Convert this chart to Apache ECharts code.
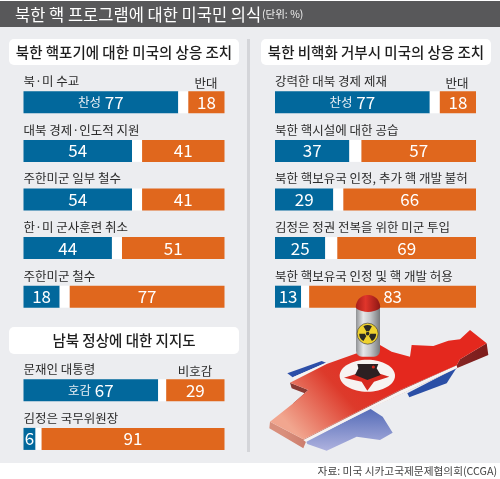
<!DOCTYPE html>
<html><head><meta charset="utf-8">
<style>html,body{margin:0;padding:0;background:#fff}#c{width:500px;height:479px}</style>
<script src="https://cdn.jsdelivr.net/npm/echarts@6/dist/echarts.min.js"></script>
</head><body><div id="c"></div>
<script>
const titleText = '북한 핵 프로그램에 대한 미국민 의식';
const unitText = '(단위: %)';
const sourceText = '자료: 미국 시카고국제문제협의회(CCGA)';

const panelATitle = '북한 핵포기에 대한 미국의 상응 조치';
const panelACategories = ['북·미 수교','대북 경제·인도적 지원','주한미군 일부 철수','한·미 군사훈련 취소','주한미군 철수'];
const panelAYes = [77,54,54,44,18];
const panelANo = [18,41,41,51,77];

const panelBTitle = '북한 비핵화 거부시 미국의 상응 조치';
const panelBCategories = ['강력한 대북 경제 제재','북한 핵시설에 대한 공습','북한 핵보유국 인정, 추가 핵 개발 불허','김정은 정권 전복을 위한 미군 투입','북한 핵보유국 인정 및 핵 개발 허용'];
const panelBYes = [77,37,29,25,13];
const panelBNo = [18,57,66,69,83];

const panelCTitle = '남북 정상에 대한 지지도';
const panelCCategories = ['문재인 대통령','김정은 국무위원장'];
const panelCYes = [67,6];
const panelCNo = [29,91];

const FONT = '"Noto Sans CJK KR","Noto Sans",sans-serif';
const BLUE = '#02689c', ORANGE = '#e0671d', TEXT = '#2b2b2b';

const panels = [
  {cats:panelACategories, yes:panelAYes, no:panelANo, left:23.5, top:78, h:243, yesWord:'찬성'},
  {cats:panelBCategories, yes:panelBYes, no:panelBNo, left:275, top:78, h:243, yesWord:'찬성'},
  {cats:panelCCategories, yes:panelCYes, no:panelCNo, left:23.5, top:366, h:97.2, yesWord:'호감'}
];

const grid=[],xAxis=[],yAxis=[],series=[];
panels.forEach((p,i)=>{
  grid.push({left:p.left,top:p.top,width:201,height:p.h});
  xAxis.push({gridIndex:i,type:'value',min:0,max:100,show:false});
  yAxis.push({gridIndex:i,type:'category',inverse:true,data:p.cats,
    axisLine:{show:false},axisTick:{show:false},splitLine:{show:false},
    axisLabel:{inside:true,margin:0,align:'left',verticalAlign:'bottom',padding:[0,0,14.5,0],
      fontFamily:FONT,fontSize:12.5,color:TEXT}});
  const common={type:'bar',xAxisIndex:i,yAxisIndex:i,stack:'s'+i,barWidth:22,silent:true,animation:false};
  series.push({...common,name:'yes',data:p.yes,itemStyle:{color:BLUE},
    label:{show:true,position:'inside',fontFamily:FONT,color:'#fff',fontSize:17,
      formatter:o=>o.dataIndex===0?'{w|'+p.yesWord+'} '+o.value:''+o.value,
      rich:{w:{fontFamily:FONT,fontSize:12.5,color:'#e6eef4'}}}});
  series.push({...common,name:'gap',data:p.yes.map((v,k)=>100-v-p.no[k]),itemStyle:{color:'#ffffff'}});
  series.push({...common,name:'no',data:p.no,itemStyle:{color:ORANGE},
    label:{show:true,position:'inside',fontFamily:FONT,color:'#fff',fontSize:17,formatter:'{c}'}});
});

function t(x,y,text,size,color,align,weight){
  return {type:'text',x,y,z:50,silent:true,style:{text,fontFamily:FONT,fontSize:size,fill:color||TEXT,align:align||'left',verticalAlign:'middle',fontWeight:weight||'normal'}};
}
function r(x,y,w,h,fill,rad){return {type:'rect',x,y,silent:true,shape:{x:0,y:0,width:w,height:h,r:rad||0},style:{fill}};}
function grad(x,y,x2,y2,stops){return {type:'linear',x,y,x2,y2,global:true,colorStops:stops.map(s=>({offset:s[0],color:s[1]}))};}
const Z=a=>a.map(q=>[250+q[0]/3,240+q[1]/3]);
function poly(pts,fill){return {type:'polygon',silent:true,shape:{points:Z(pts)},style:{fill}};}
const ZX=v=>250+v/3, ZY=v=>240+v/3;

const art=[
  // side depth of the map
  poly([[710,310],[715,345],[620,385],[360,505],[170,600],[160,625],[58,565],[60,545],[160,598],[450,450],[620,376],[630,358]],
    grad(ZX(100),0,ZX(700),0,[[0,'#d98f7c'],[0.5,'#a0403a'],[1,'#7d1d1c']])),
  poly([[120,428],[125,445],[170,462],[130,495],[130,490],[175,450]],'#8a3a34'),
  // blue sliver, top left
  poly([[112,400],[215,363],[228,368],[128,412]],'#2d4fa8'),
  // south, blue fading
  poly([[168,603],[362,507],[398,530],[428,578],[390,600],[320,590],[230,632],[172,612]],
    grad(ZX(300),ZY(500),ZX(300),ZY(630),[[0,'#5068b6'],[1,'#adb1de']])),
  // east blue
  poly([[472,460],[620,383],[590,430],[478,472]],'#2b4fa6'),
  // white bands
  poly([[160,600],[450,452],[620,376],[622,384],[360,506],[168,606]],'#f6f3f2'),
  poly([[128,412],[228,368],[236,372],[132,420]],'#f6f3f2'),
  // red face of the map
  poly([[120,428],[230,372],[390,315],[425,335],[480,350],[485,315],[550,318],[595,302],[630,298],[660,270],[710,310],[630,358],[620,376],[450,450],[160,598],[60,545],[130,490],[175,450]],
    grad(ZX(380),ZY(350),ZX(130),ZY(570),[[0,'#e4281e'],[0.45,'#dd3a2b'],[1,'#f1a68f']])),
  // emblem
  {type:'ellipse',silent:true,shape:{cx:ZX(352),cy:ZY(407),rx:83/3,ry:48/3},style:{fill:'#f7f3f1'}},
  poly([[352,452],[335,425],[282,413],[325,400],[385,400],[418,410],[372,425]],'#d7291f'),
  // launcher
  poly([[322,372],[385,372],[380,385],[392,405],[352,420],[315,405],[325,385]],'#2c2022'),
  {type:'circle',silent:true,shape:{cx:ZX(370),cy:ZY(381),r:1.6},style:{fill:'#d7291f'}},
  // bomb body
  {type:'rect',silent:true,shape:{x:ZX(318),y:ZY(205),width:72/3,height:145/3,r:[0,0,6,6]},
    style:{fill:grad(ZX(318),0,ZX(390),0,[[0,'#8f9194'],[0.3,'#e6e7e9'],[0.6,'#c4c6c9'],[1,'#77797c']])}},
  // bomb tip
  {type:'polygon',silent:true,shape:{smooth:0.35,points:[[356,308],[358,300],[363,296],[368,295],[373,296],[378,300],[380,308],[374,311],[368,312],[362,311]]},
    style:{fill:grad(356,0,380,0,[[0,'#a81f1a'],[0.4,'#e0352b'],[1,'#8f1814']])}},
  // radiation sign
  {type:'circle',silent:true,shape:{cx:ZX(353),cy:ZY(281),r:10.5},style:{fill:'#efd22f',stroke:'#35332a',lineWidth:.6}},
  {type:'sector',silent:true,shape:{cx:ZX(353),cy:ZY(281),r:8.5,r0:2.6,startAngle:-2.09,endAngle:-1.05},style:{fill:'#2b2a24'}},
  {type:'sector',silent:true,shape:{cx:ZX(353),cy:ZY(281),r:8.5,r0:2.6,startAngle:0,endAngle:1.05},style:{fill:'#2b2a24'}},
  {type:'sector',silent:true,shape:{cx:ZX(353),cy:ZY(281),r:8.5,r0:2.6,startAngle:2.09,endAngle:3.14},style:{fill:'#2b2a24'}},
  {type:'circle',silent:true,shape:{cx:ZX(353),cy:ZY(281),r:1.8},style:{fill:'#2b2a24'}}
].map(e=>Object.assign(e,{z:40}));

const chrome=[
  r(0,27,500,436,'#ecedf0'),
  r(0,1,500,26,'#58585a'),
  r(247,39,3,413,'#d4d5d9'),
  r(9,39,230,26,'#fff',5), r(261,39,230,26,'#fff',5), r(9,327,230,27,'#fff',5)
];
const labels=[
  t(15,14.5,titleText,16.5,'#fff'),
  t(262,14.5,unitText,10.5,'#f0f0f0'),
  t(124,52,panelATitle,14.5,'#1e1e1e','center',500),
  t(376,52,panelBTitle,14.5,'#1e1e1e','center',500),
  t(124,340.5,panelCTitle,14.5,'#1e1e1e','center',500),
  t(206,83,'반대',12.5,TEXT,'center'),
  t(457,83,'반대',12.5,TEXT,'center'),
  t(195,371,'비호감',12.5,TEXT,'center'),
  t(497,471,sourceText,10.7,'#444','right')
];

const chart=echarts.init(document.getElementById('c'),null,{renderer:'canvas'});
chart.setOption({
  animation:false,backgroundColor:'#fff',
  textStyle:{fontFamily:FONT},
  grid,xAxis,yAxis,series,
  graphic:[
    {type:'group',silent:true,children:chrome},
    {type:'group',silent:true,children:art.concat(labels)}
  ]
});
</script></body></html>
